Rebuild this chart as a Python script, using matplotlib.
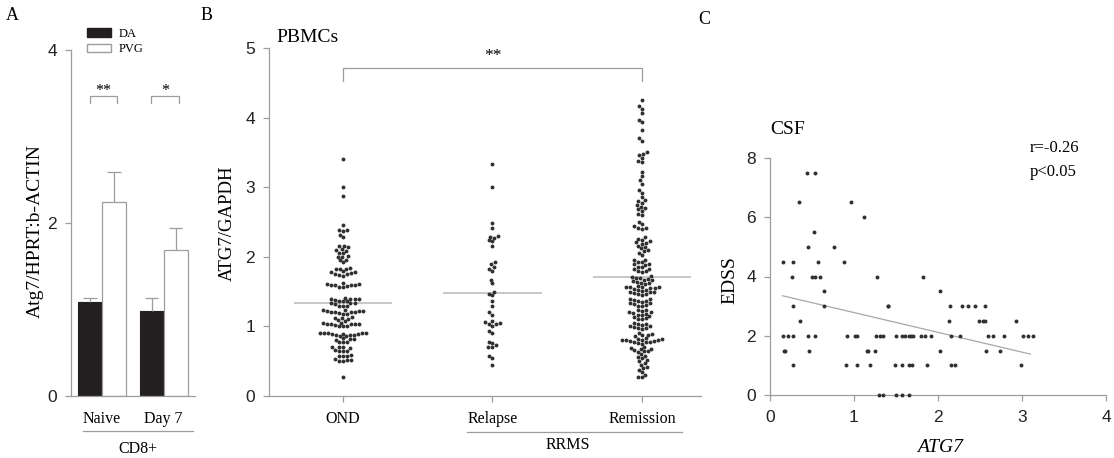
import numpy as np
import pandas as pd
import matplotlib
matplotlib.use("Agg")
import matplotlib.pyplot as plt
import seaborn as sns
from matplotlib.patches import Patch

# ---- data: panel A (CD8+ Atg7 expression) ----
groups_a = ["Naive", "Day 7"]
da_mean = [1.09, 0.98]
da_err = [0.04, 0.15]
pvg_mean = [2.24, 1.69]
pvg_err = [0.35, 0.25]

# ---- data: panel B (PBMCs ATG7/GAPDH) ----
groups_b = ["OND", "Relapse", "Remission"]
ond = [3.40, 3.00, 2.88, 2.45, 2.38, 2.38, 2.37, 2.32, 2.28,
       2.16, 2.15, 2.14, 2.11, 2.10, 2.09, 2.06, 2.05,
       2.01, 2.00, 1.99, 1.96, 1.95, 1.92,
       1.84, 1.83, 1.83, 1.82, 1.79, 1.78, 1.78, 1.77, 1.76, 1.75, 1.74, 1.73,
       1.62, 1.61, 1.61, 1.60, 1.60, 1.59, 1.59, 1.58, 1.57, 1.56,
       1.41, 1.40, 1.40, 1.39, 1.39, 1.38, 1.37, 1.36, 1.36,
       1.34, 1.33, 1.33, 1.32, 1.30, 1.30, 1.29,
       1.23, 1.23, 1.22, 1.22, 1.22, 1.21, 1.21, 1.20, 1.20, 1.19, 1.18, 1.18,
       1.13, 1.12, 1.12, 1.11, 1.09, 1.08,
       1.05, 1.05, 1.04, 1.04, 1.04, 1.03, 1.03, 1.02, 1.01, 1.00, 1.00,
       0.91, 0.91, 0.90, 0.90, 0.90, 0.89, 0.89, 0.89, 0.88, 0.88, 0.87, 0.86, 0.86,
       0.83, 0.82, 0.82, 0.81, 0.78, 0.78, 0.77,
       0.71, 0.70, 0.70, 0.69, 0.66, 0.65, 0.65, 0.64,
       0.59, 0.58, 0.58, 0.57, 0.53, 0.52, 0.52, 0.51, 0.50,
       0.28]
relapse = [3.33, 3.00, 2.48, 2.42, 2.30, 2.29, 2.27, 2.24, 2.22, 2.16,
           1.92, 1.89, 1.85, 1.82, 1.80, 1.67, 1.62, 1.50, 1.47, 1.45,
           1.36, 1.30, 1.20, 1.17, 1.08, 1.06, 1.05, 1.04, 1.03, 1.01,
           0.93, 0.90, 0.78, 0.76, 0.73, 0.71, 0.70, 0.58, 0.55, 0.45]
remission = [4.25, 4.16, 4.12, 4.06, 3.96, 3.93, 3.82, 3.70, 3.67,
             3.50, 3.48, 3.46, 3.42, 3.38, 3.36, 3.22, 3.16, 3.10, 3.05,
             2.96, 2.92, 2.86, 2.82, 2.80, 2.78, 2.74, 2.72, 2.70, 2.68, 2.66, 2.62, 2.60,
             2.50, 2.47, 2.44, 2.42, 2.41, 2.40,
             2.28, 2.26, 2.24, 2.22, 2.21, 2.20, 2.18, 2.16, 2.14, 2.12, 2.10, 2.08, 2.06, 2.03,
             1.96, 1.95, 1.93, 1.92, 1.90, 1.89, 1.88, 1.86, 1.85, 1.83, 1.82, 1.80, 1.79, 1.78,
             1.72, 1.71, 1.70, 1.69, 1.68, 1.67, 1.66, 1.65, 1.64, 1.63, 1.62, 1.61,
             1.58, 1.57, 1.57, 1.56, 1.56, 1.55, 1.55, 1.54, 1.53, 1.52, 1.51, 1.50, 1.50,
             1.49, 1.48, 1.47, 1.46, 1.45,
             1.40, 1.39, 1.38, 1.37, 1.36, 1.35, 1.34, 1.33, 1.32, 1.31, 1.30, 1.29,
             1.24, 1.23, 1.22, 1.21, 1.20, 1.19, 1.18, 1.17, 1.16, 1.15, 1.14, 1.12, 1.11, 1.10,
             1.05, 1.04, 1.03, 1.02, 1.01, 1.00, 0.99, 0.98, 0.97, 0.96,
             0.90, 0.89, 0.88, 0.87, 0.86,
             0.83, 0.82, 0.82, 0.81, 0.81, 0.80, 0.80, 0.79, 0.79, 0.78, 0.78, 0.77, 0.76, 0.75,
             0.70, 0.69, 0.68, 0.67, 0.66, 0.65, 0.64, 0.63,
             0.60, 0.58, 0.56, 0.54, 0.52, 0.50, 0.48,
             0.45, 0.42, 0.40, 0.38, 0.34, 0.30, 0.28, 0.27]
group_means = [1.34, 1.475, 1.71]

# ---- data: panel C (CSF ATG7 vs EDSS) ----
csf_atg7 = [0.435, 0.54, 0.35, 0.97, 1.12, 0.52, 0.45, 0.76,
            0.15, 0.27, 0.57, 0.88,
            0.26, 0.495, 0.54, 0.59, 1.27, 1.82,
            0.64, 2.02,
            0.27, 0.64, 1.40, 1.41, 2.14, 2.28, 2.36, 2.44, 2.56,
            0.36, 2.13, 2.49, 2.53, 2.56, 2.93,
            0.15, 0.21, 0.27, 0.455, 0.54, 0.92, 1.01, 1.03, 1.26, 1.31, 1.34, 1.50,
            1.575, 1.61, 1.65, 1.68, 1.70, 1.80, 1.84, 1.92, 2.16, 2.26, 2.59, 2.66,
            2.79, 3.01, 3.07, 3.13,
            0.17, 0.18, 0.46, 1.15, 1.17, 1.25, 2.02, 2.57, 2.74,
            0.27, 0.90, 1.04, 1.195, 1.49, 1.575, 1.66, 1.69, 1.87, 2.15, 2.20, 2.99,
            1.30, 1.35, 1.50, 1.575, 1.65]
csf_edss = [7.5, 7.5, 6.5, 6.5, 6.0, 5.5, 5.0, 5.0,
            4.5, 4.5, 4.5, 4.5,
            4.0, 4.0, 4.0, 4.0, 4.0, 4.0,
            3.5, 3.5,
            3.0, 3.0, 3.0, 3.0, 3.0, 3.0, 3.0, 3.0, 3.0,
            2.5, 2.5, 2.5, 2.5, 2.5, 2.5,
            2.0, 2.0, 2.0, 2.0, 2.0, 2.0, 2.0, 2.0, 2.0, 2.0, 2.0, 2.0,
            2.0, 2.0, 2.0, 2.0, 2.0, 2.0, 2.0, 2.0, 2.0, 2.0, 2.0, 2.0,
            2.0, 2.0, 2.0, 2.0,
            1.5, 1.5, 1.5, 1.5, 1.5, 1.5, 1.5, 1.5, 1.5,
            1.0, 1.0, 1.0, 1.0, 1.0, 1.0, 1.0, 1.0, 1.0, 1.0, 1.0, 1.0,
            0.0, 0.0, 0.0, 0.0, 0.0]
fit_x = [0.15, 3.10]
fit_y = [3.35, 1.38]

# ---- layout helpers (pixel -> figure fraction) ----
W, H = 1114, 458
def fx(px):
    return px / W
def fy(py):
    return 1 - py / H

SERIF = "Liberation Serif"
SANS = "Liberation Sans"
GRAY = "#9d9d9d"
DOT = "#303030"

fig = plt.figure(figsize=(W / 100, H / 100), dpi=100)

def style_axes(ax, tick_size):
    for s in ["top", "right"]:
        ax.spines[s].set_visible(False)
    for s in ["left", "bottom"]:
        ax.spines[s].set_color(GRAY)
        ax.spines[s].set_linewidth(0.9)
    ax.tick_params(axis="y", direction="out", length=4, width=0.9, color=GRAY,
                   labelsize=tick_size, labelcolor="#222222", pad=6)
    for lab in ax.get_yticklabels():
        lab.set_fontfamily(SANS)

# ================= Panel A =================
axA = fig.add_axes([fx(71), fy(396), 124 / W, 346 / H])
xa = np.arange(len(groups_a))
w = 0.39
axA.bar(xa - w / 2, da_mean, w, color="#231f20", edgecolor="#231f20", linewidth=0.8)
axA.bar(xa + w / 2, pvg_mean, w, color="white", edgecolor=GRAY, linewidth=0.9)
# error bars (upper only)
for xs, m, e in [(xa - w / 2, da_mean, da_err), (xa + w / 2, pvg_mean, pvg_err)]:
    top = np.array(m) + np.array(e)
    axA.vlines(xs, m, top, color=GRAY, lw=0.9)
    axA.hlines(top, xs - 0.11, xs + 0.11, color=GRAY, lw=0.9)
axA.set_xlim(-0.504, 1.51)
axA.set_ylim(0, 4)
axA.set_yticks([0, 2, 4])
style_axes(axA, 12.5)
axA.set_xticks(xa)
axA.set_xticklabels(groups_a, fontfamily=SERIF, fontsize=11.5)
axA.tick_params(axis="x", length=0, pad=11)
# significance brackets
for g, star in zip(xa, ["**", "*"]):
    axA.plot([g - 0.2, g - 0.2, g + 0.25, g + 0.25], [3.39, 3.47, 3.47, 3.39],
             color=GRAY, lw=0.9)
    axA.text(g + 0.02, 3.53, star, ha="center", va="center", fontsize=11.5,
             fontfamily=SERIF)
# group underline + label
axA.plot([-0.31, 1.48], [-0.101, -0.101], color=GRAY, lw=0.9,
         transform=axA.get_xaxis_transform(), clip_on=False)
axA.text(0.585, -0.152, "CD8+", transform=axA.get_xaxis_transform(),
         ha="center", va="center", fontsize=11.5, fontfamily=SERIF)
fig.text(fx(35), fy(231), "Atg7/HPRT:b-ACTIN", rotation=90, ha="center",
         va="center", fontsize=14, fontfamily=SERIF)
leg = axA.legend(handles=[Patch(facecolor="#231f20", edgecolor="#231f20"),
                          Patch(facecolor="white", edgecolor=GRAY)],
                 labels=["DA", "PVG"], loc="upper left",
                 bbox_to_anchor=(fx(87), fy(28)), bbox_transform=fig.transFigure,
                 frameon=False, handlelength=1.9, handleheight=0.65,
                 labelspacing=0.25, handletextpad=0.6, borderpad=0,
                 borderaxespad=0, prop={"family": SERIF, "size": 9})
fig.text(fx(12), fy(16), "A", ha="center", va="center", fontsize=13,
         fontfamily=SERIF)

# ================= Panel B =================
axB = fig.add_axes([fx(269), fy(396), (701 - 269) / W, 348 / H])
df_b = pd.DataFrame({
    "group": ["OND"] * len(ond) + ["Relapse"] * len(relapse) + ["Remission"] * len(remission),
    "value": ond + relapse + remission,
})
sns.swarmplot(data=df_b, x="group", y="value", order=groups_b, ax=axB,
              color=DOT, size=2.8, linewidth=0, warn_thresh=1)
axB.set_xlim(-0.495, 2.395)
axB.set_ylim(0, 5)
axB.hlines(group_means, np.arange(3) - 0.33, np.arange(3) + 0.33,
           color="#b8b8b8", lw=1.1, zorder=1)
axB.plot([0, 0, 2, 2], [4.53, 4.71, 4.71, 4.53], color=GRAY, lw=0.9)
axB.text(1, 4.88, "**", ha="center", va="center", fontsize=12.5, fontfamily=SERIF)
axB.set_xlabel("")
axB.set_ylabel("")
axB.set_yticks([0, 1, 2, 3, 4, 5])
style_axes(axB, 12.5)
axB.set_xticks([0, 1, 2])
axB.set_xticklabels(groups_b, fontfamily=SERIF, fontsize=11.5)
axB.tick_params(axis="x", direction="out", length=4, width=0.9, color=GRAY, pad=7)
axB.plot([0.83, 2.27], [-0.1034, -0.1034], color=GRAY, lw=0.9,
         transform=axB.get_xaxis_transform(), clip_on=False)
axB.text(1.505, -0.141, "RRMS", transform=axB.get_xaxis_transform(),
         ha="center", va="center", fontsize=11.5, fontfamily=SERIF)
fig.text(fx(227), fy(223), "ATG7/GAPDH", rotation=90, ha="center",
         va="center", fontsize=13.5, fontfamily=SERIF)
fig.text(fx(276), fy(38), "PBMCs", ha="left", va="center", fontsize=14,
         fontfamily=SERIF)
fig.text(fx(207), fy(16), "B", ha="center", va="center", fontsize=13,
         fontfamily=SERIF)

# ================= Panel C =================
axC = fig.add_axes([fx(770), fy(395), 336 / W, 237 / H])
axC.scatter(csf_atg7, csf_edss, s=8, color=DOT, linewidths=0, clip_on=False,
            zorder=3)
axC.plot(fit_x, fit_y, color="#a8a8a8", lw=0.9)
axC.set_xlim(0, 4)
axC.set_ylim(0, 8)
axC.set_xticks([0, 1, 2, 3, 4])
axC.set_yticks([0, 2, 4, 6, 8])
style_axes(axC, 12.5)
axC.tick_params(axis="x", direction="out", length=4, width=0.9, color=GRAY,
                labelsize=12.5, labelcolor="#222222", pad=7)
for lab in axC.get_xticklabels():
    lab.set_fontfamily(SANS)
fig.text(fx(770), fy(130), "CSF", ha="left", va="center", fontsize=14,
         fontfamily=SERIF)
fig.text(fx(1030), fy(148), "r=-0.26", ha="left", va="center", fontsize=12,
         fontfamily=SERIF)
fig.text(fx(1030), fy(172), "p<0.05", ha="left", va="center", fontsize=12,
         fontfamily=SERIF)
fig.text(fx(940), fy(448), "ATG7", ha="center", va="center", fontsize=14,
         fontfamily=SERIF, style="italic")
fig.text(fx(730), fy(280), "EDSS", rotation=90, ha="center", va="center",
         fontsize=14, fontfamily=SERIF)
fig.text(fx(704), fy(19), "C", ha="center", va="center", fontsize=13,
         fontfamily=SERIF)

fig.savefig("out.png", dpi=100)
